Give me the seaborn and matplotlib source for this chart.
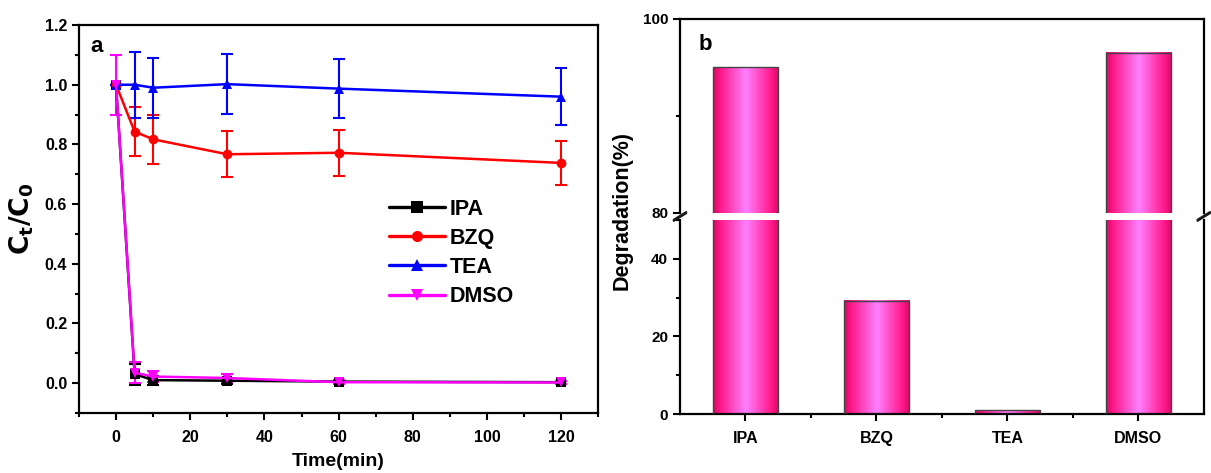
import numpy as np
import pandas as pd
import matplotlib
matplotlib.use("Agg")
import matplotlib.pyplot as plt
from matplotlib.colors import LinearSegmentedColormap
from matplotlib.ticker import MultipleLocator, FormatStrFormatter
import seaborn as sns

# ---- data -------------------------------------------------------------
times = [0, 5, 10, 30, 60, 120]
scavengers = ["IPA", "BZQ", "TEA", "DMSO"]

ipa = [1.0, 0.030, 0.010, 0.008, 0.005, 0.003]
bzq = [1.0, 0.843, 0.817, 0.767, 0.772, 0.738]
tea = [1.0, 1.000, 0.990, 1.002, 0.987, 0.960]
dmso = [1.0, 0.035, 0.022, 0.017, 0.003, 0.002]

ipa_err = [0.0, 0.035, 0.015, 0.010, 0.006, 0.005]
bzq_err = [0.0, 0.083, 0.082, 0.077, 0.077, 0.074]
tea_err = [0.0, 0.110, 0.100, 0.100, 0.098, 0.096]
dmso_err = [0.10, 0.035, 0.020, 0.015, 0.006, 0.005]

degradation = [95.0, 29.2, 1.0, 96.5]

colors = {"IPA": "#000000", "BZQ": "#FF0000", "TEA": "#0000FF", "DMSO": "#FF00FF"}
markers = {"IPA": "s", "BZQ": "o", "TEA": "^", "DMSO": "v"}

series = {"IPA": (ipa, ipa_err), "BZQ": (bzq, bzq_err),
          "TEA": (tea, tea_err), "DMSO": (dmso, dmso_err)}

rows = []
for name in scavengers:
    vals, errs = series[name]
    for t, v, e in zip(times, vals, errs):
        rows.append({"Time": t, "ratio": v, "err": e, "Scavenger": name})
df = pd.DataFrame(rows)

bar_df = pd.DataFrame({"Scavenger": scavengers, "Degradation": degradation})

# ---- style ------------------------------------------------------------
sns.set_theme(style="ticks")
plt.rcParams["font.family"] = ["Liberation Sans", "DejaVu Sans"]
plt.rcParams["font.weight"] = "bold"
plt.rcParams["axes.labelweight"] = "bold"
plt.rcParams["axes.linewidth"] = 1.6
plt.rcParams["axes.edgecolor"] = "black"
plt.rcParams["axes.labelcolor"] = "black"
plt.rcParams["text.color"] = "black"
plt.rcParams["xtick.color"] = "black"
plt.rcParams["ytick.color"] = "black"
plt.rcParams["xtick.direction"] = "out"
plt.rcParams["ytick.direction"] = "out"
plt.rcParams["mathtext.default"] = "bf"

fig = plt.figure(figsize=(12.11, 4.73), dpi=100)

# ---- panel a: kinetics ------------------------------------------------
ax1 = fig.add_axes([0.0652, 0.127, 0.4288, 0.820])
sns.lineplot(data=df, x="Time", y="ratio", hue="Scavenger", style="Scavenger",
             hue_order=scavengers, style_order=scavengers,
             palette=colors, markers=markers, dashes=False,
             markersize=7, markeredgewidth=0, linewidth=1.8,
             ax=ax1, legend=True, errorbar=None)
for name in scavengers:
    sub = df[df["Scavenger"] == name]
    ax1.errorbar(sub["Time"], sub["ratio"], yerr=sub["err"], fmt="none",
                 ecolor=colors[name], elinewidth=1.5, capsize=4, capthick=1.5,
                 zorder=1)

ax1.set_xlim(-10, 130)
ax1.set_ylim(-0.1, 1.2)
ax1.xaxis.set_major_locator(MultipleLocator(20))
ax1.xaxis.set_minor_locator(MultipleLocator(10))
ax1.set_yticks(np.arange(0, 1.21, 0.2))
ax1.yaxis.set_minor_locator(MultipleLocator(0.1))
ax1.yaxis.set_major_formatter(FormatStrFormatter("%.1f"))
ax1.tick_params(which="major", length=5, width=1.5, labelsize=11.5)
ax1.tick_params(which="minor", length=3, width=1.5)
ax1.tick_params(axis="x", which="major", pad=7)
ax1.set_xlabel("Time(min)", fontsize=14, fontweight="bold", labelpad=6)
ax1.set_ylabel(r"$\mathbf{C_t/C_0}$", fontsize=19, labelpad=6)
for s in ax1.spines.values():
    s.set_visible(True)
ax1.text(0.022, 0.972, "a", transform=ax1.transAxes, fontsize=16,
         fontweight="bold", va="top")
leg = ax1.legend(loc="upper left", bbox_to_anchor=(0.58, 0.575), frameon=False,
                 fontsize=15.5, handlelength=2.6, handletextpad=0.25,
                 labelspacing=0.38, borderaxespad=0)
for h in leg.legend_handles:
    h.set_markersize(8)
    h.set_linewidth(2.4)

# ---- panel b: degradation with broken axis ----------------------------
ax_top = fig.add_axes([0.5615, 0.5497, 0.4325, 0.4103])
ax_bot = fig.add_axes([0.5615, 0.1247, 0.4325, 0.4103])

grad = LinearSegmentedColormap.from_list(
    "pinkbar",
    [(0.0, "#D80A64"), (0.12, "#FF1A8C"), (0.5, "#FF80FF"),
     (0.88, "#FF1A8C"), (1.0, "#D80A64")])
gradient = np.linspace(0, 1, 256).reshape(1, -1)

for ax, lims in ((ax_top, (80, 100)), (ax_bot, (0, 50))):
    sns.barplot(data=bar_df, x="Scavenger", y="Degradation", order=scavengers,
                color="#FF40B0", width=0.5, edgecolor="#444444", linewidth=1.0,
                ax=ax, zorder=2)
    for patch in ax.patches:
        x0, y0 = patch.get_x(), patch.get_y()
        w, h = patch.get_width(), patch.get_height()
        lo = max(y0, lims[0])
        hi = min(y0 + h, lims[1])
        if hi <= lo:
            continue
        ax.imshow(gradient, cmap=grad, aspect="auto",
                  extent=[x0, x0 + w, lo, hi], zorder=2.5,
                  interpolation="bilinear")
        patch.set_facecolor("none")
        patch.set_zorder(3)
    ax.set_xlim(-0.5, 3.5)
    ax.set_ylim(*lims)
    ax.set_xlabel("")
    ax.set_ylabel("")
    ax.tick_params(which="major", length=5, width=1.5, labelsize=11)
    ax.tick_params(which="minor", length=3, width=1.5)

ax_top.set_yticks([80, 100])
ax_top.yaxis.set_minor_locator(MultipleLocator(10))
ax_bot.set_yticks([0, 20, 40])
ax_bot.yaxis.set_minor_locator(MultipleLocator(10))

ax_top.spines["bottom"].set_visible(False)
ax_top.tick_params(axis="x", which="both", bottom=False, labelbottom=False)
ax_bot.spines["top"].set_visible(False)
ax_bot.set_xticks(range(len(scavengers)))
ax_bot.set_xticklabels(scavengers)
ax_bot.set_xticks([0.5, 1.5, 2.5], minor=True)
ax_bot.tick_params(axis="x", which="major", length=5, pad=7, labelsize=11.5)
for ax in (ax_top, ax_bot):
    for side in ("left", "right"):
        ax.spines[side].set_visible(True)
ax_top.spines["top"].set_visible(True)
ax_bot.spines["bottom"].set_visible(True)

# diagonal break marks on both vertical spines
d = 0.012
kw = dict(color="k", clip_on=False, linewidth=1.5)
for xs in (0, 1):
    ax_top.plot([xs - d, xs + d], [-0.035, 0.005], transform=ax_top.transAxes, **kw)
    ax_bot.plot([xs - d, xs + d], [0.995, 1.035], transform=ax_bot.transAxes, **kw)

ax_top.text(0.035, 0.92, "b", transform=ax_top.transAxes, fontsize=16,
            fontweight="bold", va="top")
fig.text(0.514, 0.556, "Degradation(%)", rotation=90, fontsize=15.5,
         fontweight="bold", ha="center", va="center")

fig.savefig("out.png", dpi=100)
